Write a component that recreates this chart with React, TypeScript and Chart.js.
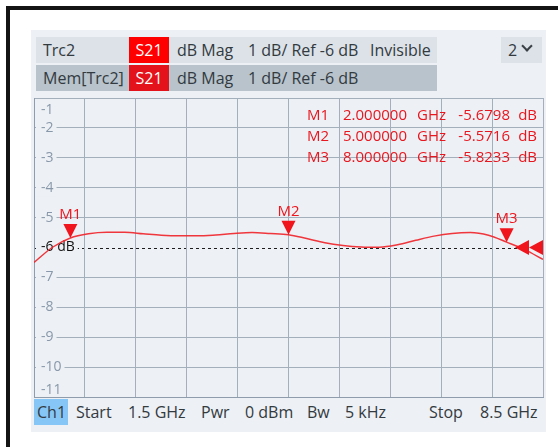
import React, { useEffect, useRef } from 'react';
import { Chart, registerables } from 'chart.js';

Chart.register(...registerables);

// ---------- data ----------
const FREQ_GHZ = [
  1.5, 1.75, 2.0, 2.25, 2.5, 2.75, 3.0, 3.25, 3.5, 3.75, 4.0, 4.25, 4.5, 4.75, 5.0,
  5.25, 5.5, 5.75, 6.0, 6.25, 6.5, 6.75, 7.0, 7.25, 7.5, 7.75, 8.0, 8.25, 8.5,
];
const MEM_TRC2_DB = [
  -6.5, -6.0, -5.68, -5.54, -5.49, -5.49, -5.54, -5.59, -5.61, -5.61, -5.58, -5.53, -5.5, -5.53, -5.57,
  -5.7, -5.84, -5.93, -5.98, -5.99, -5.91, -5.76, -5.62, -5.53, -5.5, -5.59, -5.82, -6.07, -6.4,
];
const MARKER_NAMES = ['M1', 'M2', 'M3'];
const MARKER_FREQ_GHZ = [2.0, 5.0, 8.0];
const MARKER_DB = [-5.6798, -5.5716, -5.8233];
const MARKER_FREQ_TEXT = ['2.000000', '5.000000', '8.000000'];
const MARKER_DB_TEXT = ['-5.6798', '-5.5716', '-5.8233'];

const Y_TICKS = [-1, -2, -3, -4, -5, -6, -7, -8, -9, -10, -11];
const X_GRID_GHZ = [1.5, 2.2, 2.9, 3.6, 4.3, 5.0, 5.7, 6.4, 7.1, 7.8, 8.5];
const REF_LEVEL_DB = -6;

const HEADER_ROW1 = ['Trc2', 'S21', 'dB Mag', '1 dB/ Ref -6 dB', 'Invisible'];
const HEADER_ROW2 = ['Mem[Trc2]', 'S21', 'dB Mag', '1 dB/ Ref -6 dB'];
const FOOTER = ['Ch1', 'Start', '1.5 GHz', 'Pwr', '0 dBm', 'Bw', '5 kHz', 'Stop', '8.5 GHz'];

// ---------- styles ----------
const FONT = "'Open Sans', 'Noto Sans', sans-serif";
const PANEL_BG = '#edf0f4';
const GRID = '#a3afbb';
const GRID_BORDER = '#8e9cab';
const TICK_GRAY = '#8898aa';
const TRACE_RED = 'rgba(240, 38, 44, 0.92)';
const MARKER_RED = '#f0141c';
const TEXT_DARK = '#333a40';

const overlayPlugin = {
  id: 'vnaOverlay',
  beforeDraw(chart: any) {
    const { ctx, chartArea, scales } = chart;
    const y = Math.round(scales.y.getPixelForValue(REF_LEVEL_DB)) + 0.5;
    ctx.save();
    ctx.strokeStyle = '#1c1c1c';
    ctx.lineWidth = 1;
    ctx.setLineDash([3, 3]);
    ctx.beginPath();
    ctx.moveTo(chartArea.left, y);
    ctx.lineTo(chartArea.right, y);
    ctx.stroke();
    ctx.restore();
  },
  afterDatasetsDraw(chart: any) {
    const { ctx, chartArea, scales } = chart;
    const meta = chart.getDatasetMeta(1);
    ctx.save();
    ctx.fillStyle = MARKER_RED;
    ctx.font = `15px ${FONT}`;
    ctx.textAlign = 'center';
    ctx.textBaseline = 'alphabetic';
    meta.data.forEach((pt: any, i: number) => {
      const x = pt.x;
      const y = pt.y;
      ctx.beginPath();
      ctx.moveTo(x, y);
      ctx.lineTo(x - 7, y - 14);
      ctx.lineTo(x + 7, y - 14);
      ctx.closePath();
      ctx.fill();
      ctx.fillText(MARKER_NAMES[i], x, y - 19);
    });

    // reference-level arrows at the right edge
    const ry = scales.y.getPixelForValue(REF_LEVEL_DB);
    const r = chartArea.right;
    [[r - 28, r - 14], [r - 14, r]].forEach(([tip, base]) => {
      ctx.beginPath();
      ctx.moveTo(tip, ry);
      ctx.lineTo(base, ry - 7.5);
      ctx.lineTo(base, ry + 7.5);
      ctx.closePath();
      ctx.fill();
    });

    // marker table
    ctx.textAlign = 'right';
    ctx.fillStyle = '#e8161e';
    ctx.font = `15px ${FONT}`;
    MARKER_NAMES.forEach((name, i) => {
      const by = chartArea.top + 22 + i * 21;
      ctx.fillText(name, r - 214, by);
      ctx.fillText(MARKER_FREQ_TEXT[i], r - 136, by);
      ctx.fillText('GHz', r - 97, by);
      ctx.fillText(MARKER_DB_TEXT[i], r - 33, by);
      ctx.fillText('dB', r - 6, by);
    });
    ctx.restore();
  },
};

function App() {
  const canvasRef = useRef<HTMLCanvasElement | null>(null);

  useEffect(() => {
    const canvas = canvasRef.current;
    if (!canvas) return;
    const tv = (ctx: any) => (ctx && ctx.tick ? ctx.tick.value : undefined);
    const chart = new Chart(canvas, {
      type: 'line',
      data: {
        datasets: [
          {
            label: 'Mem[Trc2]',
            data: FREQ_GHZ.map((f, i) => ({ x: f, y: MEM_TRC2_DB[i] })),
            borderColor: TRACE_RED,
            borderWidth: 1.5,
            pointRadius: 0,
            fill: false,
            cubicInterpolationMode: 'monotone',
          },
          {
            label: 'Markers',
            data: MARKER_FREQ_GHZ.map((f, i) => ({ x: f, y: MARKER_DB[i] })),
            showLine: false,
            pointRadius: 0,
            borderColor: MARKER_RED,
          },
        ],
      },
      options: {
        responsive: false,
        animation: false,
        devicePixelRatio: 1,
        layout: { padding: { left: 34, top: 98, right: 15, bottom: 50 } },
        plugins: { legend: { display: false }, tooltip: { enabled: false } },
        scales: {
          x: {
            type: 'linear',
            min: 1.5,
            max: 8.5,
            afterBuildTicks: (s: any) => {
              s.ticks = X_GRID_GHZ.map((v) => ({ value: v }));
            },
            afterFit: (s: any) => {
              s.height = 0;
            },
            grid: { color: GRID, drawTicks: false, lineWidth: 1 },
            border: { color: GRID_BORDER, width: 1 },
            ticks: { display: false, autoSkip: false },
          },
          y: {
            type: 'linear',
            min: -11,
            max: -1,
            afterBuildTicks: (s: any) => {
              s.ticks = Y_TICKS.map((v) => ({ value: v }));
            },
            afterFit: (s: any) => {
              s.width = 0;
            },
            grid: {
              color: (ctx: any) => (tv(ctx) === REF_LEVEL_DB ? 'rgba(0,0,0,0)' : GRID),
              drawTicks: false,
              lineWidth: 1,
            },
            border: { color: GRID_BORDER, width: 1 },
            ticks: {
              autoSkip: false,
              mirror: true,
              padding: 7,
              color: (ctx: any) => (tv(ctx) === REF_LEVEL_DB ? '#111111' : TICK_GRAY),
              font: (ctx: any) => {
                const v = tv(ctx);
                return {
                  family: FONT,
                  size: 14,
                  lineHeight: v === -1 ? '23.4px' : v === -11 ? '13.4px' : 1.2,
                };
              },
              callback: (v: any) => {
                if (v === -1) return ['', '-1'];
                if (v === -11) return ['-11', ''];
                if (v === REF_LEVEL_DB) return `${v} dB`;
                return String(v);
              },
              showLabelBackdrop: (ctx: any) => {
                const v = tv(ctx);
                return v !== -1 && v !== -11;
              },
              backdropColor: PANEL_BG,
              backdropPadding: { left: 5, right: 3, top: 0, bottom: 0 },
            },
          },
        },
      },
      plugins: [overlayPlugin],
    } as any);
    return () => chart.destroy();
  }, []);

  const abs = (l: number, t: number, w: number, h: number, extra: any = {}) => ({
    position: 'absolute' as const,
    left: l,
    top: t,
    width: w,
    height: h,
    ...extra,
  });
  const txt = (l: number, t: number, s: string, extra: any = {}) => (
    <div
      style={{
        position: 'absolute',
        left: l,
        top: t,
        height: 26,
        lineHeight: '26px',
        fontSize: 16,
        color: TEXT_DARK,
        whiteSpace: 'pre',
        ...extra,
      }}
    >
      {s}
    </div>
  );

  return (
    <div
      style={{
        position: 'absolute',
        left: 0,
        top: 0,
        width: 558,
        height: 447,
        overflow: 'hidden',
        background: '#ffffff',
        fontFamily: FONT,
      }}
    >
      {/* outer black frame */}
      <div style={abs(6, 6, 700, 600, { borderLeft: '4px solid #141414', borderTop: '4px solid #141414', boxSizing: 'border-box' })} />
      {/* panel */}
      <div style={abs(31, 30, 515, 402, { background: PANEL_BG })} />
      {/* header row 1 */}
      <div style={abs(36, 37, 401, 26, { background: '#dce2e8' })} />
      <div style={abs(129, 37, 40, 26, { background: '#ff0000' })} />
      {txt(43, 37, HEADER_ROW1[0])}
      {txt(129, 37, HEADER_ROW1[1], { width: 40, textAlign: 'center', color: '#ffffff' })}
      {txt(177, 37, HEADER_ROW1[2])}
      {txt(248, 37, HEADER_ROW1[3])}
      {txt(370, 37, HEADER_ROW1[4])}
      {/* header row 2 */}
      <div style={abs(36, 65, 401, 26, { background: '#b8c3cc' })} />
      <div style={abs(129, 65, 40, 26, { background: '#e4121a' })} />
      {txt(43, 65, HEADER_ROW2[0])}
      {txt(129, 65, HEADER_ROW2[1], { width: 40, textAlign: 'center', color: '#ffffff' })}
      {txt(177, 65, HEADER_ROW2[2])}
      {txt(248, 65, HEADER_ROW2[3])}
      {/* channel selector */}
      <div style={abs(501, 37, 41, 26, { background: '#dce2e8' })} />
      {txt(508, 37, '2')}
      <div
        style={abs(523, 42, 8, 8, {
          borderRight: '2px solid #3a4046',
          borderBottom: '2px solid #3a4046',
          transform: 'rotate(45deg)',
          boxSizing: 'border-box',
        })}
      />
      {/* footer */}
      <div style={abs(34, 399, 34, 26, { background: '#86c6f6' })} />
      {txt(37, 399, FOOTER[0])}
      {txt(76, 399, FOOTER[1])}
      {txt(128, 399, FOOTER[2])}
      {txt(201, 399, FOOTER[3])}
      {txt(245, 399, FOOTER[4])}
      {txt(307, 399, FOOTER[5])}
      {txt(345, 399, FOOTER[6])}
      {txt(429, 399, FOOTER[7])}
      {txt(480, 399, FOOTER[8])}
      {/* chart */}
      <canvas ref={canvasRef} width={558} height={447} style={{ position: 'absolute', left: 0, top: 0, width: 558, height: 447 }} />
    </div>
  );
}

export default App;
